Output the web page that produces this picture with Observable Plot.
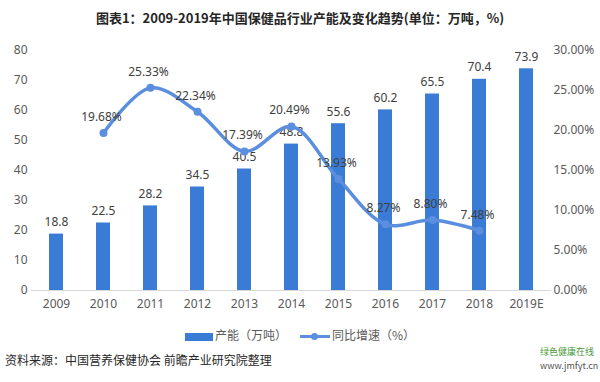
<!DOCTYPE html>
<html>
<head>
<meta charset="utf-8">
<script src="https://cdn.jsdelivr.net/npm/d3@7"></script>
<script src="https://cdn.jsdelivr.net/npm/@observablehq/plot@0.6"></script>
<style>
  body { margin: 0; background: #fff; font-family: "Noto Sans CJK SC", "Noto Sans", sans-serif; }
  #wrap { position: relative; width: 600px; height: 382px; overflow: hidden; }
  #title { position: absolute; top: 8px; left: 0; width: 600px; text-align: center; font-size: 13px; font-weight: bold; color: #262626; line-height: 20px; }
  #chart { position: absolute; top: 36px; left: 0; }
  .legend { position: absolute; top: 327px; font-size: 12px; color: #595959; line-height: 16px; }
  #caption { position: absolute; top: 351px; left: 5px; font-size: 12px; color: #262626; line-height: 18px; }
  #logo { position: absolute; top: 345px; left: 540px; font-size: 9px; color: #4a9a3a; line-height: 14px; }
</style>
</head>
<body>
<div id="wrap">
  <div id="title">图表1：2009-2019年中国保健品行业产能及变化趋势(单位：万吨，%)</div>
  <div id="chart"></div>
  <div class="legend" style="left:185px;"><span style="display:inline-block;width:28px;height:8px;background:#3a7bd5;vertical-align:middle;margin-right:2px;"></span>产能（万吨）</div>
  <div class="legend" style="left:300px;"><span style="display:inline-block;width:30px;height:3px;background:#5b8ede;vertical-align:middle;margin-right:2px;position:relative;"><span style="position:absolute;left:11px;top:-2.5px;width:7px;height:7px;border-radius:50%;background:#5b8ede;"></span></span>同比增速（%）</div>
  <div id="caption">资料来源：中国营养保健协会 前瞻产业研究院整理</div>
  <div id="logo"><div>绿色健康在线</div><div style="color:#555">www.jmfyt.cn</div></div>
</div>
<script>
const years = ["2009","2010","2011","2012","2013","2014","2015","2016","2017","2018","2019E"];
const capacity = [18.8, 22.5, 28.2, 34.5, 40.5, 48.8, 55.6, 60.2, 65.5, 70.4, 73.9];
const growthYears = ["2010","2011","2012","2013","2014","2015","2016","2017","2018"];
const growth = [19.68, 25.33, 22.34, 17.39, 20.49, 13.93, 8.27, 8.80, 7.48];
const leftTicks = [0, 10, 20, 30, 40, 50, 60, 70, 80];
const rightTicks = [0, 5, 10, 15, 20, 25, 30];

const k = 80 / 30; // right axis (%) to left axis scale
const bars = years.map((y, i) => ({year: y, value: capacity[i]}));
const line = growthYears.map((y, i) => ({year: y, pct: growth[i], v: growth[i] * k}));

const chart = Plot.plot({
  width: 600,
  height: 285,
  marginTop: 14,
  marginBottom: 31,
  marginLeft: 31,
  marginRight: 49,
  style: {fontFamily: "'Noto Sans', 'DejaVu Sans', sans-serif", fontSize: "12px", color: "#595959", background: "#fff"},
  x: {domain: years, paddingInner: 0.7, paddingOuter: 0.35, label: null},
  y: {domain: [0, 80], label: null},
  marks: [
    Plot.axisY(leftTicks, {anchor: "left", tickSize: 0, tickPadding: 4, label: null, fill: "#595959", fontSize: 12}),
    Plot.axisY(rightTicks.map(t => t * k), {anchor: "right", tickSize: 0, tickPadding: 2, label: null, fill: "#595959", fontSize: 12, tickFormat: d => (d / k).toFixed(2) + "%"}),
    Plot.axisX({tickSize: 0, tickPadding: 9, label: null, fill: "#595959", fontSize: 12}),
    Plot.ruleY([0], {stroke: "#d9d9d9"}),
    Plot.barY(bars, {x: "year", y: "value", fill: "#3a7bd5"}),
    Plot.text(bars, {x: "year", y: "value", text: d => d.value.toFixed(1), dy: -12, fill: "#404040", fontSize: 12}),
    Plot.line(line, {x: "year", y: "v", stroke: "#5b8ede", strokeWidth: 3.5, curve: "catmull-rom"}),
    Plot.dot(line, {x: "year", y: "v", r: 4, fill: "#5b8ede"}),
    Plot.text(line, {x: "year", y: "v", text: d => d.pct.toFixed(2) + "%", dy: -16, dx: -2, fill: "#404040", fontSize: 12})
  ]
});
document.getElementById("chart").appendChild(chart);
</script>
</body>
</html>
